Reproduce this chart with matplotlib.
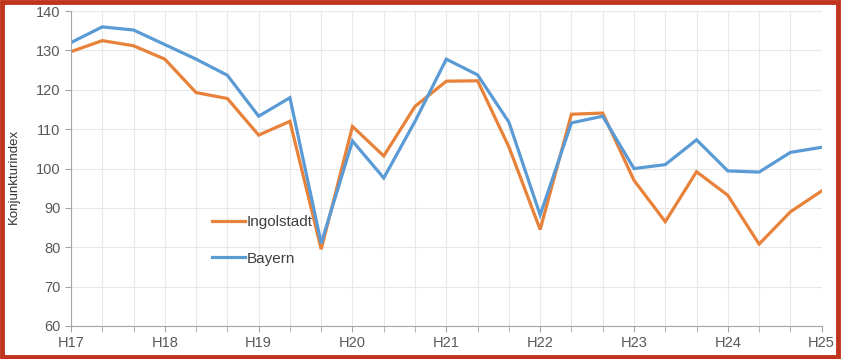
import matplotlib.pyplot as plt
from matplotlib.patches import Rectangle

# Daten
labels = ['H17', 'H18', 'H19', 'H20', 'H21', 'H22', 'H23', 'H24', 'H25']
ingolstadt = [129.7, 132.5, 131.2, 127.8, 119.3, 117.8, 108.5, 112.0, 79.5,
              110.7, 103.2, 115.8, 122.2, 122.3, 105.5, 84.5, 113.8, 114.1,
              97.0, 86.5, 99.2, 93.2, 80.8, 89.0, 94.3]
bayern = [132.0, 136.0, 135.2, 131.5, 127.8, 123.7, 113.3, 118.0, 81.0,
          107.0, 97.6, 112.0, 127.8, 123.8, 111.8, 88.2, 111.6, 113.3,
          100.0, 101.0, 107.3, 99.4, 99.1, 104.1, 105.4]

plt.rcParams['font.family'] = ['Liberation Sans', 'DejaVu Sans']
grau = '#595959'

fig = plt.figure(figsize=(8.41, 3.59), dpi=100)
ax = fig.add_axes([0.0844, 0.092, 0.8926, 0.877])

x = list(range(len(ingolstadt)))
ax.plot(x, ingolstadt, color='#e8823a', lw=2.3, label='Ingolstadt', solid_joinstyle='miter')
ax.plot(x, bayern, color='#5b9bd5', lw=2.3, label='Bayern', solid_joinstyle='miter')

ax.set_xlim(0, len(x) - 1)
ax.set_ylim(60, 140)
ax.set_yticks(range(60, 141, 10))
ax.set_xticks(range(0, len(x), 3))
ax.set_xticklabels(labels)
ax.set_xticks(x, minor=True)
ax.grid(True, which='both', color='#e8e8e8', lw=0.8)
ax.set_axisbelow(True)

for s in ['top', 'right']:
    ax.spines[s].set_visible(False)
for s in ['left', 'bottom']:
    ax.spines[s].set_color('#a6a6a6')
ax.tick_params(axis='both', which='both', colors='#a6a6a6', labelcolor=grau,
               labelsize=10.5, length=4, direction='out')
ax.tick_params(axis='x', pad=3)
ax.set_ylabel('Konjunkturindex', fontsize=9.5, color='#333333')
ax.yaxis.set_label_coords(-0.068, 0.476)

ax.legend(loc='upper left', bbox_to_anchor=(0.17, 0.395), frameon=False,
          fontsize=11, handlelength=2.15, handletextpad=0.1, labelspacing=1.45,
          labelcolor='#404040')

fig.patches.append(Rectangle((0.002, 0.005), 0.994, 0.99, transform=fig.transFigure,
                             fill=False, edgecolor='#c0341d', lw=3.5))

fig.savefig('out.png', dpi=100)
